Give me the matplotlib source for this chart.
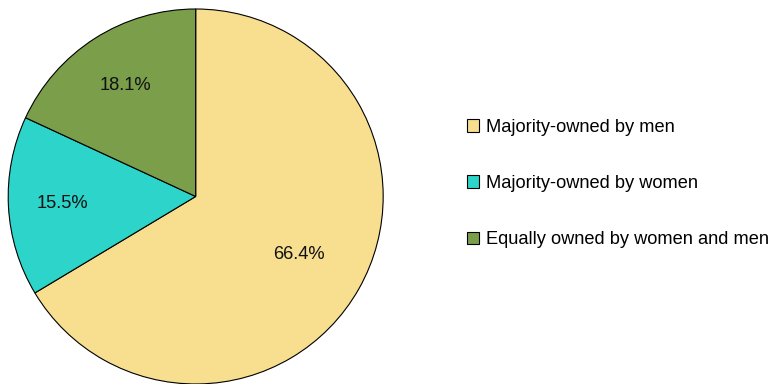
import matplotlib.pyplot as plt
import numpy as np

plt.rcParams['font.family'] = ['Liberation Sans', 'DejaVu Sans']

labels = ['Majority-owned by men', 'Majority-owned by women', 'Equally owned by women and men']
shares = [66.4, 15.5, 18.1]
colors = ['#F7DF8F', '#2DD4C9', '#7A9E4A']
pct_dist = [0.63, 0.71, 0.70]

fig = plt.figure(figsize=(7.73, 3.84), dpi=100)
ax = fig.add_axes([0.0106, 0.0, 0.4851, 0.9766])

wedges, texts, autotexts = ax.pie(shares, colors=colors, startangle=90, counterclock=False,
                                  radius=1, autopct='%.1f%%', pctdistance=0.65,
                                  wedgeprops=dict(edgecolor='black', linewidth=0.8),
                                  textprops=dict(fontsize=13.2, color='#111111'))
# nudge the percentage labels radially per slice
for t, w, d in zip(autotexts, wedges, pct_dist):
    ang = np.deg2rad((w.theta1 + w.theta2) / 2)
    t.set_position((d * np.cos(ang), d * np.sin(ang)))

ax.set_xlim(-1, 1)
ax.set_ylim(-1, 1)
ax.set_aspect('equal')
ax.axis('off')

fig.legend(wedges, labels, loc='center left', bbox_to_anchor=(0.604, 0.522),
           frameon=False, fontsize=13.15, handlelength=0.67, handleheight=0.67,
           handletextpad=0.36, labelspacing=2.15, borderpad=0, borderaxespad=0)

fig.savefig('out.png', dpi=100)
